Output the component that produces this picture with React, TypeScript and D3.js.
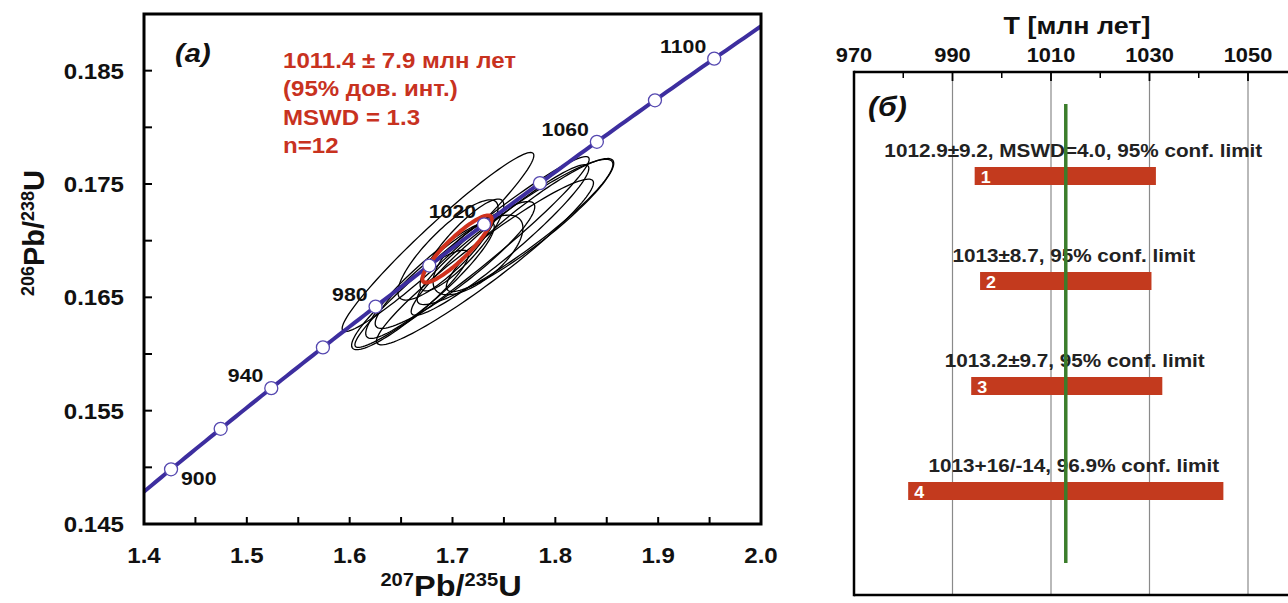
import React from "react";
import * as d3 from "d3";

const WIDTH = 1288;
const HEIGHT = 603;
const FONT = "'Liberation Sans', Arial, Helvetica, sans-serif";

// Decay constants (1/yr) for the concordia curve
const LAMBDA_238 = 1.55125e-10;
const LAMBDA_235 = 9.8485e-10;

// Concordia age markers (Ma) and the ones that carry a label
const markerAges = [900, 920, 940, 960, 980, 1000, 1020, 1040, 1060, 1080, 1100];
const labelledAges = [900, 940, 980, 1020, 1060, 1100];

// Axis ticks of the concordia diagram
const xTickLabels = [1.4, 1.5, 1.6, 1.7, 1.8, 1.9, 2.0];
const yTickLabels = [0.145, 0.155, 0.165, 0.175, 0.185];

// Zircon analyses: 207Pb/235U, 2σ, 206Pb/238U, 2σ, error correlation
const pb207u235 = [1.6859, 1.719, 1.7316, 1.7608, 1.7754, 1.7462, 1.7024, 1.6956, 1.7248, 1.6781, 1.7092, 1.6587];
const pb207u235Err = [0.0932, 0.1139, 0.1055, 0.0952, 0.0814, 0.0864, 0.0776, 0.0487, 0.0437, 0.0625, 0.0407, 0.0568];
const pb206u238 = [0.16988, 0.169, 0.16812, 0.17077, 0.17138, 0.17006, 0.16785, 0.16918, 0.16874, 0.16653, 0.16962, 0.16477];
const pb206u238Err = [0.0079, 0.00842, 0.00731, 0.00641, 0.00587, 0.00664, 0.0056, 0.00442, 0.00351, 0.00515, 0.00405, 0.00439];
const errCorr = [0.966, 0.971, 0.954, 0.93, 0.926, 0.951, 0.919, 0.841, 0.675, 0.914, 0.865, 0.911];

// Concordia age ellipse: x, 2σx, y, 2σy, rho
const concordiaAge = [1.7044, 0.0337, 0.16927, 0.00296, 0.895];

const resultLines = ["1011.4 ± 7.9 млн лет", "(95% дов. инт.)", "MSWD = 1.3", "n=12"];

// Age comparison panel
const ageTicks = [970, 990, 1010, 1030, 1050];
const ageMinorTicks = [980, 1000, 1020, 1040];
const methodIds = ["1", "2", "3", "4"];
const methodLabels = [
  "1012.9±9.2, MSWD=4.0, 95% conf. limit",
  "1013±8.7, 95% conf. limit",
  "1013.2±9.7, 95% conf. limit",
  "1013+16/-14, 96.9% conf. limit",
];
const methodLow = [994.5, 995.6, 993.8, 981];
const methodHigh = [1031.3, 1030.4, 1032.6, 1045];
const referenceAge = 1013;

const concordiaPoint = (ageMa: number) => ({
  x: Math.exp(LAMBDA_235 * ageMa * 1e6) - 1,
  y: Math.exp(LAMBDA_238 * ageMa * 1e6) - 1,
});

const SX = 1.12; // text is drawn slightly wide

function Label(props: {
  x: number;
  y: number;
  size: number;
  anchor?: "start" | "middle" | "end";
  fill?: string;
  italic?: boolean;
  children: React.ReactNode;
}) {
  const { x, y, size, anchor = "start", fill = "#111", italic = false, children } = props;
  return (
    <text
      transform={`translate(${x},${y}) scale(${SX},1)`}
      textAnchor={anchor}
      fontSize={size}
      fontWeight="bold"
      fontStyle={italic ? "italic" : "normal"}
      fontFamily={FONT}
      fill={fill}
    >
      {children}
    </text>
  );
}

function ellipsePath(
  sx: (v: number) => number,
  sy: (v: number) => number,
  cx: number,
  ex: number,
  cy: number,
  ey: number,
  rho: number
) {
  const n = 120;
  const pts: [number, number][] = [];
  const k = Math.sqrt(Math.max(0, 1 - rho * rho));
  for (let i = 0; i <= n; i++) {
    const t = (i / n) * Math.PI * 2;
    const vx = cx + ex * Math.cos(t);
    const vy = cy + ey * (rho * Math.cos(t) + k * Math.sin(t));
    pts.push([sx(vx), sy(vy)]);
  }
  return d3.line()(pts) + "Z";
}

function ConcordiaPanel() {
  const left = 144, right = 761, top = 14, bottom = 524;
  const x = d3.scaleLinear().domain([1.4, 2.0]).range([left, right]);
  const y = d3.scaleLinear().domain([0.145, 0.19]).range([bottom, top]);
  const lineColor = "#3d2e9f";

  const curveAges = d3.range(860, 1141, 2);
  const curve = d3
    .line<number>()
    .x((a) => x(concordiaPoint(a).x))
    .y((a) => y(concordiaPoint(a).y))(curveAges);

  const xMinor = d3.range(1.4, 2.0001, 0.05);
  const yMinor = d3.range(0.145, 0.19001, 0.005);

  return (
    <g>
      <defs>
        <clipPath id="plotA">
          <rect x={left} y={top} width={right - left} height={bottom - top} />
        </clipPath>
      </defs>

      {/* ticks, pointing inward */}
      {xMinor.map((v) => (
        <line key={"xt" + v} x1={x(v)} x2={x(v)} y1={bottom} y2={bottom - 7} stroke="#000" strokeWidth={2} />
      ))}
      {yMinor.map((v) => (
        <line key={"yt" + v} x1={left} x2={left + 8} y1={y(v)} y2={y(v)} stroke="#000" strokeWidth={2} />
      ))}

      <g clipPath="url(#plotA)">
        {pb207u235.map((v, i) => (
          <path
            key={"e" + i}
            d={ellipsePath(x, y, v, pb207u235Err[i], pb206u238[i], pb206u238Err[i], errCorr[i])}
            fill="none"
            stroke="#000"
            strokeWidth={1.3}
          />
        ))}
        <path d={curve ?? ""} fill="none" stroke={lineColor} strokeWidth={4} />
        <path
          d={ellipsePath(x, y, concordiaAge[0], concordiaAge[1], concordiaAge[2], concordiaAge[3], concordiaAge[4])}
          fill="none"
          stroke="#d0321d"
          strokeWidth={4}
        />
        {markerAges.map((a) => {
          const p = concordiaPoint(a);
          return (
            <circle key={"m" + a} cx={x(p.x)} cy={y(p.y)} r={6.5} fill="#fff" stroke="#5548b0" strokeWidth={1.3} />
          );
        })}
      </g>

      {labelledAges.map((a) => {
        const p = concordiaPoint(a);
        const px = x(p.x), py = y(p.y);
        if (a === 900) {
          return (
            <Label key={"l" + a} x={px + 10} y={py + 16} size={19}>
              {a}
            </Label>
          );
        }
        return (
          <Label key={"l" + a} x={px - 8} y={py - 6} size={19} anchor="end">
            {a}
          </Label>
        );
      })}

      {/* frame */}
      <rect x={left} y={top} width={right - left} height={bottom - top} fill="none" stroke="#000" strokeWidth={3} />

      {xTickLabels.map((v) => (
        <Label key={"xl" + v} x={x(v)} y={563} size={21.5} anchor="middle">
          {v.toFixed(1)}
        </Label>
      ))}
      {yTickLabels.map((v) => (
        <Label key={"yl" + v} x={left - 20} y={y(v) + 8} size={21.5} anchor="end">
          {v.toFixed(3)}
        </Label>
      ))}

      {/* axis titles */}
      <text
        transform={`translate(451,596) scale(${SX},1)`}
        textAnchor="middle"
        fontFamily={FONT}
        fontWeight="bold"
        fill="#111"
      >
        <tspan fontSize={18} dy={-10}>207</tspan>
        <tspan fontSize={29} dy={10}>Pb/</tspan>
        <tspan fontSize={18} dy={-10}>235</tspan>
        <tspan fontSize={29} dy={10}>U</tspan>
      </text>
      <text transform="translate(44,233) rotate(-90)" textAnchor="middle" fontFamily={FONT} fontWeight="bold" fill="#111">
        <tspan fontSize={18} dy={-10}>206</tspan>
        <tspan fontSize={29} dy={10}>Pb/</tspan>
        <tspan fontSize={18} dy={-10}>238</tspan>
        <tspan fontSize={29} dy={10}>U</tspan>
      </text>

      <Label x={175} y={62} size={26} italic>
        (a)
      </Label>
      {resultLines.map((t, i) => (
        <Label key={"r" + i} x={283} y={68 + i * 28.3} size={21.5} fill="#c8321f">
          {t}
        </Label>
      ))}
    </g>
  );
}

function AgePanel() {
  const left = 854, top = 72, bottom = 595;
  const x = d3.scaleLinear().domain([970, 1060]).range([left, left + 90 * 4.925]);
  const yc = d3.scalePoint<string>().domain(methodIds).range([176, 491]);
  const barH = 18;
  const red = "#c33a1e";

  return (
    <g>
      {ageTicks.slice(1).map((v) => (
        <line key={"g" + v} x1={x(v)} x2={x(v)} y1={top} y2={bottom} stroke="#8a8a8a" strokeWidth={1.2} />
      ))}
      {ageTicks.map((v) => (
        <line key={"mt" + v} x1={x(v)} x2={x(v)} y1={top} y2={top + 9} stroke="#000" strokeWidth={1.8} />
      ))}
      {ageMinorTicks.map((v) => (
        <line key={"nt" + v} x1={x(v)} x2={x(v)} y1={top} y2={top + 6} stroke="#000" strokeWidth={1.5} />
      ))}

      {methodIds.map((id, i) => {
        const cy = yc(id) ?? 0;
        const lo = methodLow[i], hi = methodHigh[i];
        const mid = (lo + hi) / 2;
        return (
          <g key={"b" + id}>
            <rect x={x(lo)} y={cy - barH / 2} width={x(hi) - x(lo)} height={barH} fill={red} />
            <Label x={x(lo) + 6} y={cy + 7} size={16} fill="#fff">
              {id}
            </Label>
            <Label x={x(mid) + 8} y={cy - barH / 2 - 10} size={18.5} anchor="middle" fill="#222">
              {methodLabels[i]}
            </Label>
          </g>
        );
      })}

      <line x1={x(referenceAge)} x2={x(referenceAge)} y1={104} y2={563} stroke="#3b7d2b" strokeWidth={3.5} />

      {/* frame */}
      <line x1={left} x2={WIDTH} y1={top} y2={top} stroke="#000" strokeWidth={2.5} />
      <line x1={left} x2={WIDTH} y1={bottom} y2={bottom} stroke="#000" strokeWidth={2.5} />
      <line x1={left} x2={left} y1={top - 1.25} y2={bottom + 1.25} stroke="#000" strokeWidth={2.5} />

      {ageTicks.map((v) => (
        <Label key={"al" + v} x={x(v)} y={62} size={19.5} anchor="middle">
          {v}
        </Label>
      ))}
      <Label x={1077} y={34} size={24} anchor="middle">
        T [млн лет]
      </Label>
      <Label x={868} y={116} size={27} italic>
        (б)
      </Label>
    </g>
  );
}

export default function App() {
  return (
    <svg
      width={WIDTH}
      height={HEIGHT}
      viewBox={`0 0 ${WIDTH} ${HEIGHT}`}
      style={{ position: "absolute", left: 0, top: 0, background: "#fff" }}
    >
      <rect width={WIDTH} height={HEIGHT} fill="#fff" />
      <ConcordiaPanel />
      <AgePanel />
    </svg>
  );
}
